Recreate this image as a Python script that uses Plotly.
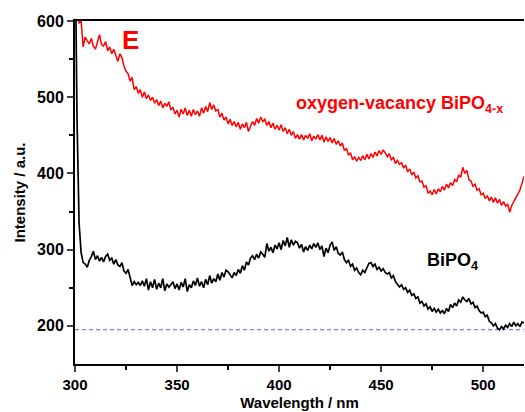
import plotly.graph_objects as go

wavelength = list(range(300, 521))

red_vals = [
    650, 615, 597, 600, 566, 579, 574, 570, 577, 567,
    563, 573, 582, 569, 567, 573, 561, 566, 557, 563,
    555, 547, 557, 552, 541, 534, 531, 521, 526, 510,
    514, 505, 510, 500, 507, 498, 503, 496, 500, 492,
    497, 489, 495, 486, 492, 488, 494, 483, 487, 478,
    483, 474, 484, 478, 486, 476, 483, 475, 484, 477,
    482, 475, 486, 479, 488, 481, 493, 484, 490, 482,
    484, 474, 479, 470, 474, 465, 471, 463, 468, 461,
    467, 458, 465, 460, 467, 455, 462, 468, 463, 472,
    466, 474, 468, 471, 463, 468, 460, 466, 458, 463,
    457, 464, 455, 460, 452, 458, 450, 455, 446, 451,
    445, 451, 444, 450, 446, 452, 443, 449, 445, 451,
    444, 450, 441, 448, 442, 447, 440, 446, 438, 443,
    436, 440, 430, 433, 424, 427, 418, 422, 416, 421,
    417, 423, 418, 425, 419, 426, 421, 428, 423, 430,
    425, 431, 427, 422, 426, 418, 421, 413, 417, 412,
    414, 407, 411, 402, 406, 398, 402, 394, 397, 389,
    390, 382, 384, 374, 377, 372, 379, 373, 380, 376,
    383, 378, 386, 381, 388, 384, 392, 389, 398, 395,
    408, 400, 404, 392, 390, 383, 386, 378, 380, 372,
    374, 367, 371, 364, 369, 362, 368, 361, 366, 358,
    363, 357, 360, 349, 358, 363, 368, 372, 378, 387,
    396,
]

black_vals = [
    720, 470, 335, 296, 283, 281, 277, 286, 291, 298,
    287, 292, 285, 290, 284, 291, 294, 286, 289, 281,
    287, 280, 278, 283, 272, 269, 274, 262, 253, 258,
    254, 257, 253, 259, 252, 262, 247, 258, 250, 261,
    248, 256, 250, 262, 246, 255, 251, 254, 258, 249,
    255, 247, 257, 251, 262, 245, 254, 250, 259, 253,
    263, 252, 258, 250, 261, 254, 266, 256, 262, 258,
    268, 260, 270, 264, 273, 271, 266, 263, 270, 266,
    274, 269, 279, 273, 284, 280, 289, 292, 287, 294,
    289, 297, 294, 290, 308, 298, 303, 296, 306, 301,
    309, 300, 312, 305, 316, 303, 313, 306, 311, 309,
    302, 307, 297, 304, 299, 306, 301, 308, 303, 309,
    300, 305, 291, 302, 296, 306, 310, 299, 304, 295,
    293, 297, 287, 283, 286, 278, 281, 273, 276, 270,
    267, 273, 270, 277, 282, 283, 278, 281, 274, 277,
    272, 275, 270, 268, 270, 263, 266, 258, 255, 251,
    254, 248, 250, 244, 247, 240, 242, 236, 238, 230,
    232, 226, 229, 222, 225, 219, 223, 218, 222, 217,
    220, 216, 223, 219, 228, 224, 230, 226, 234, 231,
    238, 234, 232, 236, 229, 231, 224, 226, 220, 217,
    218, 212, 214, 206, 204, 200, 203, 197, 195, 199,
    196, 201, 198, 203, 199, 205, 200, 203, 199, 205,
    204,
]

baseline_level = 195
x_ticks = [300, 350, 400, 450, 500]
y_ticks = [200, 300, 400, 500, 600]

FONT = "Liberation Sans, Arial, sans-serif"

fig = go.Figure()
fig.add_trace(go.Scatter(x=[wavelength[0], wavelength[-1]], y=[baseline_level, baseline_level],
                         mode="lines", line=dict(color="#5a5aff", width=1, dash="4px,3px"),
                         showlegend=False, hoverinfo="skip"))
fig.add_trace(go.Scatter(x=wavelength, y=black_vals, mode="lines",
                         line=dict(color="black", width=1.7), showlegend=False))
fig.add_trace(go.Scatter(x=wavelength, y=red_vals, mode="lines",
                         line=dict(color="#ff0000", width=1.5), showlegend=False))

fig.update_layout(
    width=525, height=412,
    margin=dict(l=75, r=1, t=21, b=48),
    plot_bgcolor="white", paper_bgcolor="white",
    font=dict(family=FONT, color="black"),
    xaxis=dict(
        range=[300, 520], tickvals=x_ticks, ticks="outside", ticklen=6, tickwidth=1.5,
        showline=True, linecolor="black", linewidth=2, mirror=True, showgrid=False, zeroline=False,
        tickfont=dict(size=15, family=FONT, weight="bold"),
        minor=dict(tickvals=[325, 375, 425, 475], ticks="outside", ticklen=4, tickwidth=1.5, tickcolor="black"),
        title=dict(text="<b>Wavelength / nm</b>", font=dict(size=15), standoff=5),
    ),
    yaxis=dict(
        range=[150, 600], tickvals=y_ticks, ticks="outside", ticklen=6, tickwidth=1.5,
        showline=True, linecolor="black", linewidth=2, showgrid=False, zeroline=False,
        tickfont=dict(size=16, family=FONT, weight="bold"),
        minor=dict(tickvals=[250, 350, 450, 550], ticks="outside", ticklen=4, tickwidth=1.5, tickcolor="black"),
        title=dict(text="<b>Intensity / a.u.</b>", font=dict(size=15), standoff=8),
    ),
    annotations=[
        dict(x=327, y=575, xref="x", yref="y", text="<b>E</b>", showarrow=False,
             font=dict(size=26, color="#ff0000", family=FONT)),
        dict(x=459, y=491, xref="x", yref="y", text="<b>oxygen-vacancy BiPO<sub>4-x</sub></b>",
             showarrow=False, font=dict(size=18, color="#ff0000", family=FONT)),
        dict(x=485, y=284, xref="x", yref="y", text="<b>BiPO<sub>4</sub></b>",
             showarrow=False, font=dict(size=18, color="black", family=FONT)),
    ],
)

fig.write_html("out.html")
